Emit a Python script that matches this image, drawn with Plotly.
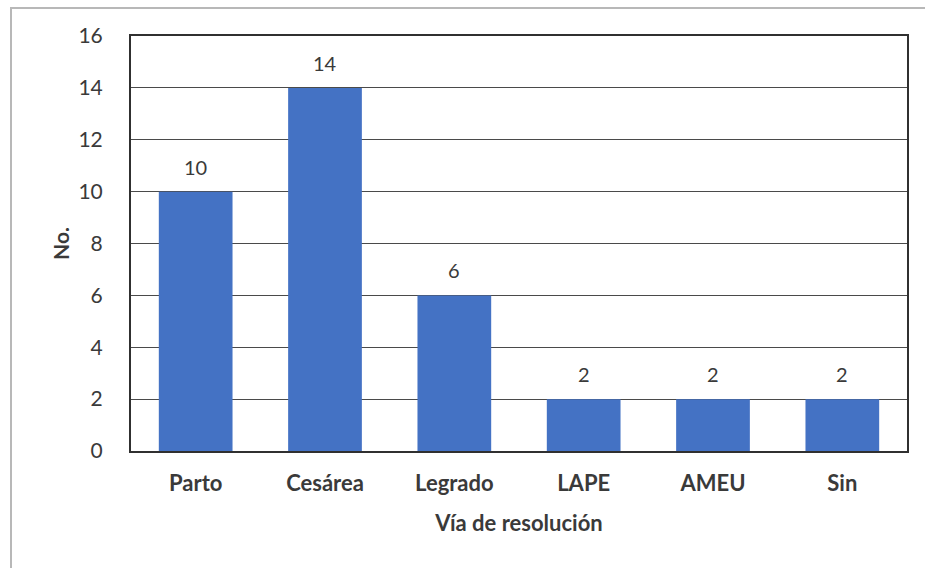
import plotly.graph_objects as go

# Data
categories = ["Parto", "Cesárea", "Legrado", "LAPE", "AMEU", "Sin"]
counts = [10, 14, 6, 2, 2, 2]
y_ticks = [0, 2, 4, 6, 8, 10, 12, 14, 16]

FONT = "Lato, 'Open Sans', sans-serif"
TEXT = "#3a3a3a"
BAR = "#4472C4"

fig = go.Figure()
fig.add_trace(go.Bar(
    x=categories,
    y=counts,
    marker=dict(color=BAR, line=dict(width=0)),
    width=0.57,
    hoverinfo="x+y",
))

# Value labels above each bar
for c, v in zip(categories, counts):
    fig.add_annotation(
        x=c, y=v, text=str(v), showarrow=False,
        xref="x", yref="y", yanchor="middle", yshift=25,
        font=dict(family=FONT, size=20, color=TEXT),
    )

fig.update_layout(
    width=925, height=568,
    margin=dict(l=131, r=18, t=36, b=117),
    paper_bgcolor="white",
    plot_bgcolor="white",
    showlegend=False,
    bargap=0.43,
    font=dict(family=FONT, color=TEXT),
    shapes=[
        # outer chart frame (extends past the right/bottom edges)
        dict(type="rect", xref="paper", yref="paper",
             x0=-120 / 776, x1=1.1,
             y0=-0.4, y1=1 + 28 / 415,
             line=dict(color="#b8b8b8", width=2), fillcolor="rgba(0,0,0,0)",
             layer="below"),
    ],
)

fig.update_xaxes(
    type="category",
    showline=True, linecolor="#303030", linewidth=2, mirror=True,
    showgrid=False, ticks="",
    ticklabelstandoff=12,
    tickfont=dict(family=FONT, size=22, color=TEXT, weight="bold"),
    title=dict(text="<b>Vía de resolución</b>",
               font=dict(family=FONT, size=22, color=TEXT), standoff=20),
)

fig.update_yaxes(
    range=[0, 16],
    tickvals=y_ticks,
    ticktext=[str(t) for t in y_ticks],
    showline=True, linecolor="#303030", linewidth=2, mirror=True,
    showgrid=True, gridcolor="#4a4a4a", gridwidth=1,
    zeroline=False, ticks="",
    ticklabelstandoff=22,
    tickfont=dict(family=FONT, size=21, color=TEXT),
    title=dict(text="<b>No.</b>",
               font=dict(family=FONT, size=21, color=TEXT), standoff=3),
)

fig.write_html("out.html")
